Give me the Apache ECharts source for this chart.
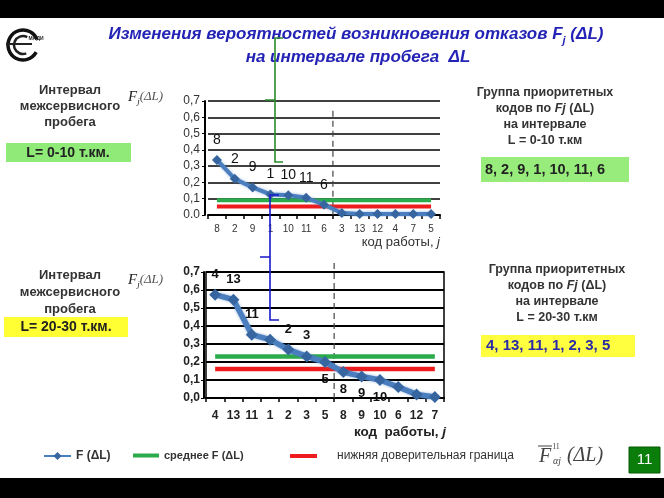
<!DOCTYPE html>
<html><head><meta charset="utf-8">
<script src="https://cdn.jsdelivr.net/npm/echarts@6/dist/echarts.min.js"></script>
<style>html,body{margin:0;padding:0;background:#fff}#c{width:664px;height:498px}</style>
</head><body><div id="c"></div>
<script>
// ---- data ----
const catsTop = ['8','2','9','1','10','11','6','3','13','12','4','7','5'];
const valsTop = [0.338,0.222,0.169,0.126,0.122,0.106,0.063,0.012,0.006,0.006,0.006,0.006,0.006];
const meanTop = 0.091;
const lowTop = 0.052;
const priorityTop = ['8','2','9','1','10','11','6'];
const labelsTop = ['8','2','9','1','10','11','6'];
const yLabelsTop = ['0.0','0,1','0,2','0,3','0,4','0,5','0,6','0,7'];

const catsBot = ['4','13','11','1','2','3','5','8','9','10','6','12','7'];
const valsBot = [0.574,0.546,0.352,0.324,0.269,0.231,0.200,0.144,0.120,0.100,0.061,0.020,0.006];
const meanBot = 0.230;
const lowBot = 0.161;
const priorityBot = ['4','13','11','1','2','3','5'];
const labelsBotAbove = ['4','13','11','2','3'];
const labelsBotBelow = ['5','8','9','10'];
const yLabelsBot = ['0,0','0,1','0,2','0,3','0,4','0,5','0,6','0,7'];

const seriesNames = ['F (ΔL)', 'среднее F (ΔL)', 'нижняя доверительная граница'];

// ---- styles ----
const SANS = "'Liberation Sans', Arial, sans-serif";
const NARROW = "'Liberation Sans Narrow', 'Arial Narrow', 'Liberation Sans', sans-serif";
const SERIF = "'Liberation Serif', 'Times New Roman', serif";
const BLUE = '#4a7ebf', BLUE_D = '#36659f', GREEN = '#2bab4b', RED = '#ee1c1c';
const TXT = '#333';

const chart = echarts.init(document.getElementById('c'));

function blueData(cats, vals, above, below, font, bold, size) {
  return vals.map((v, i) => {
    const c = cats[i];
    let label = { show: false };
    if (above.includes(c)) label = { show: true, position: 'top', distance: 8 };
    else if (below.includes(c)) label = { show: true, position: 'bottom', distance: 5 };
    return { value: v, label: Object.assign(label, { formatter: c, fontFamily: font, fontWeight: bold, fontSize: size, color: '#111' }) };
  });
}

const option = {
  animation: false,
  backgroundColor: '#fff',
  grid: [
    { left: 208, top: 101, width: 232, height: 114 },
    { left: 206, top: 272, width: 238, height: 126, show: true, borderColor: '#000', borderWidth: 1.5 }
  ],
  xAxis: [
    { type: 'category', gridIndex: 0, data: catsTop, boundaryGap: true,
      axisLine: { lineStyle: { color: '#000', width: 2 } },
      axisTick: { show: true, length: 4, lineStyle: { color: '#000', width: 1.5 } },
      axisLabel: { fontFamily: NARROW, fontSize: 10, color: TXT, margin: 9, interval: 0 } },
    { type: 'category', gridIndex: 1, data: catsBot, boundaryGap: true,
      axisLine: { lineStyle: { color: '#000', width: 2 } },
      axisTick: { show: true, length: 4, lineStyle: { color: '#000', width: 1.5 } },
      axisLabel: { fontFamily: SANS, fontWeight: 'bold', fontSize: 12, color: '#222', margin: 12, interval: 0 } }
  ],
  yAxis: [
    { type: 'value', gridIndex: 0, min: 0, max: 0.7, interval: 0.1, offset: 3,
      axisLine: { show: true, lineStyle: { color: '#000', width: 2 } },
      axisTick: { show: true, length: 3, lineStyle: { color: '#000' } },
      splitLine: { lineStyle: { color: '#000', width: 1.5 } },
      axisLabel: { fontFamily: NARROW, fontSize: 12, color: TXT, margin: 5,
        formatter: v => yLabelsTop[Math.round(v * 10)] } },
    { type: 'value', gridIndex: 1, min: 0, max: 0.7, interval: 0.1, offset: 2,
      axisLine: { show: true, lineStyle: { color: '#000', width: 2 } },
      axisTick: { show: true, length: 3, lineStyle: { color: '#000' } },
      splitLine: { lineStyle: { color: '#000', width: 2 } },
      axisLabel: { fontFamily: SANS, fontWeight: 'bold', fontSize: 12, color: '#222', margin: 4,
        formatter: v => yLabelsBot[Math.round(v * 10)] } }
  ],
  legend: [
    { left: 38, top: 445, itemWidth: 27, itemHeight: 10, data: [seriesNames[0]], selectedMode: false,
      textStyle: { fontFamily: SANS, fontWeight: 'bold', fontSize: 12, color: TXT } },
    { left: 128, top: 445, itemWidth: 26, itemHeight: 4, data: [{ name: seriesNames[1], icon: 'rect' }], selectedMode: false,
      textStyle: { fontFamily: SANS, fontWeight: 'bold', fontSize: 11, color: TXT } },
    { left: 285, top: 445, itemWidth: 27, itemHeight: 4, data: [{ name: seriesNames[2], icon: 'rect' }], selectedMode: false,
      formatter: n => '{t|' + n + '}',
      textStyle: { fontFamily: SANS, fontSize: 12, color: TXT, rich: { t: { padding: [0, 0, 0, 15], fontFamily: SANS, fontSize: 12, color: TXT } } } }
  ],
  series: [
    { name: seriesNames[1], type: 'line', xAxisIndex: 0, yAxisIndex: 0, symbol: 'none',
      data: catsTop.map(() => meanTop), lineStyle: { color: GREEN, width: 4 }, itemStyle: { color: GREEN } },
    { name: seriesNames[2], type: 'line', xAxisIndex: 0, yAxisIndex: 0, symbol: 'none',
      data: catsTop.map(() => lowTop), lineStyle: { color: RED, width: 4 }, itemStyle: { color: RED } },
    { name: seriesNames[0], type: 'line', xAxisIndex: 0, yAxisIndex: 0, symbol: 'diamond', symbolSize: 10,
      data: blueData(catsTop, valsTop, labelsTop, [], NARROW, 'normal', 14),
      lineStyle: { color: BLUE, width: 4, shadowBlur: 3, shadowColor: 'rgba(74,126,191,0.6)' },
      itemStyle: { color: BLUE_D } },
    { name: seriesNames[1], type: 'line', xAxisIndex: 1, yAxisIndex: 1, symbol: 'none',
      data: catsBot.map(() => meanBot), lineStyle: { color: GREEN, width: 4.5 }, itemStyle: { color: GREEN } },
    { name: seriesNames[2], type: 'line', xAxisIndex: 1, yAxisIndex: 1, symbol: 'none',
      data: catsBot.map(() => lowBot), lineStyle: { color: RED, width: 4.5 }, itemStyle: { color: RED } },
    { name: seriesNames[0], type: 'line', xAxisIndex: 1, yAxisIndex: 1, symbol: 'diamond', symbolSize: 12,
      data: blueData(catsBot, valsBot, labelsBotAbove, labelsBotBelow, SANS, 'bold', 13),
      lineStyle: { color: BLUE, width: 5.5, shadowBlur: 3, shadowColor: 'rgba(74,126,191,0.6)' },
      itemStyle: { color: BLUE_D } }
  ]
};

function t(x, y, text, o) {
  return { type: 'text', z: 10, style: Object.assign({ x: x, y: y, text: text, align: 'center', verticalAlign: 'middle',
    fontFamily: SANS, fontSize: 13, fontWeight: 'bold', fill: TXT }, o || {}) };
}
const blueTitle = '#2323b5';
const graphic = [
  { type: 'rect', shape: { x: 0, y: 0, width: 664, height: 18 }, style: { fill: '#000' } },
  { type: 'rect', shape: { x: 0, y: 478, width: 664, height: 20 }, style: { fill: '#000' } },
  // logo
  { type: 'arc', shape: { cx: 23, cy: 45, r: 15, startAngle: 0.5, endAngle: 5.9 }, style: { stroke: '#111', lineWidth: 3.5, fill: null } },
  { type: 'arc', shape: { cx: 23, cy: 45, r: 9, startAngle: 1.2, endAngle: 5.2 }, style: { stroke: '#222', lineWidth: 2.5, fill: null } },
  { type: 'line', shape: { x1: 6, y1: 44, x2: 32, y2: 44 }, style: { stroke: '#222', lineWidth: 2 } },
  t(36, 39, 'МАДИ', { fontSize: 5, fill: '#222' }),
  // title
  { type: 'text', z: 5, style: { x: 356, y: 34, align: 'center', verticalAlign: 'middle',
    text: '{a|Изменения вероятностей возникновения отказов F}{s|j}{a| (ΔL)}',
    rich: { a: { fontFamily: SANS, fontSize: 17, fontWeight: 'bold', fontStyle: 'italic', fill: blueTitle, lineHeight: 24 },
            s: { fontFamily: SANS, fontSize: 11, fontWeight: 'bold', fontStyle: 'italic', fill: blueTitle, lineHeight: 11, verticalAlign: 'bottom' } } } },
  t(358, 57, 'на интервале пробега  ΔL', { fontSize: 17, fontStyle: 'italic', fill: blueTitle }),
  // left texts
  t(70, 106, 'Интервал\nмежсервисного\nпробега', { lineHeight: 16 }),
  { type: 'rect', shape: { x: 6, y: 143, width: 125, height: 19 }, style: { fill: '#8fea78' } },
  t(68, 153, 'L= 0-10 т.км.', { fontSize: 14, fill: '#222' }),
  t(70, 292, 'Интервал\nмежсервисного\nпробега', { lineHeight: 17 }),
  { type: 'rect', shape: { x: 4, y: 317, width: 124, height: 20 }, style: { fill: '#ffff33' } },
  t(66, 327, 'L= 20-30 т.км.', { fontSize: 14, fill: '#222' }),
  // right texts
  { type: 'text', z: 10, style: { x: 545, y: 117, align: 'center', verticalAlign: 'middle',
    text: '{b|Группа приоритетных}\n{b|кодов по }{i|Fj}{b| (ΔL)}\n{b|на интервале}\n{b|L = 0-10 т.км}',
    rich: { b: { fontFamily: SANS, fontSize: 12.5, fontWeight: 'bold', fill: TXT, lineHeight: 16 },
            i: { fontFamily: SANS, fontSize: 12.5, fontWeight: 'bold', fontStyle: 'italic', fill: TXT, lineHeight: 16 } } } },
  { type: 'rect', shape: { x: 481, y: 157, width: 148, height: 25 }, style: { fill: '#97ec7c' } },
  t(485, 169.5, '8, 2, 9, 1, 10, 11, 6', { align: 'left', fontSize: 14.5, fill: '#222' }),
  { type: 'text', z: 10, style: { x: 557, y: 294, align: 'center', verticalAlign: 'middle',
    text: '{b|Группа приоритетных}\n{b|кодов по }{i|Fj}{b| (ΔL)}\n{b|на интервале}\n{b|L = 20-30 т.км}',
    rich: { b: { fontFamily: SANS, fontSize: 12.5, fontWeight: 'bold', fill: TXT, lineHeight: 16 },
            i: { fontFamily: SANS, fontSize: 12.5, fontWeight: 'bold', fontStyle: 'italic', fill: TXT, lineHeight: 16 } } } },
  { type: 'rect', shape: { x: 481, y: 335, width: 154, height: 22 }, style: { fill: '#ffff40' } },
  t(486, 346, '4, 13, 11, 1, 2, 3, 5', { align: 'left', fontSize: 15, fill: '#2b2ba8' }),
  // axis titles
  { type: 'text', z: 10, style: { x: 128, y: 97, verticalAlign: 'middle',
    text: '{f|F}{s|j}{p|(ΔL)}',
    rich: { f: { fontFamily: SERIF, fontStyle: 'italic', fontSize: 15, fill: '#222', lineHeight: 18 },
            s: { fontFamily: SERIF, fontStyle: 'italic', fontSize: 9, fill: '#222', lineHeight: 9, verticalAlign: 'bottom' },
            p: { fontFamily: SERIF, fontStyle: 'italic', fontSize: 13, fill: '#555', lineHeight: 18 } } } },
  { type: 'text', z: 10, style: { x: 128, y: 280, verticalAlign: 'middle',
    text: '{f|F}{s|j}{p|(ΔL)}',
    rich: { f: { fontFamily: SERIF, fontStyle: 'italic', fontSize: 15, fill: '#222', lineHeight: 18 },
            s: { fontFamily: SERIF, fontStyle: 'italic', fontSize: 9, fill: '#222', lineHeight: 9, verticalAlign: 'bottom' },
            p: { fontFamily: SERIF, fontStyle: 'italic', fontSize: 13, fill: '#555', lineHeight: 18 } } } },
  { type: 'text', z: 10, style: { x: 440, y: 242, align: 'right', verticalAlign: 'middle',
    text: '{a|код работы, }{j|j}',
    rich: { a: { fontFamily: NARROW, fontSize: 13, fill: TXT }, j: { fontFamily: NARROW, fontSize: 13, fontStyle: 'italic', fill: TXT } } } },
  { type: 'text', z: 10, style: { x: 446, y: 432, align: 'right', verticalAlign: 'middle',
    text: '{a|код  работы, }{j|j}',
    rich: { a: { fontFamily: SANS, fontSize: 13.5, fontWeight: 'bold', fill: '#222' }, j: { fontFamily: SANS, fontSize: 13.5, fontWeight: 'bold', fontStyle: 'italic', fill: '#222' } } } },
  // brackets
  { type: 'polyline', z: 20, shape: { points: [[283, 38], [275, 38], [275, 100], [265, 100], [275, 100], [275, 162], [283, 162]] },
    style: { stroke: '#2a8a2a', lineWidth: 1.6, fill: null } },
  { type: 'polyline', z: 20, shape: { points: [[279, 195], [270, 195], [270, 257], [260, 257], [270, 257], [270, 320], [279, 320]] },
    style: { stroke: '#1818cc', lineWidth: 1.6, fill: null } },
  // legend formula
  t(545, 457, 'F', { fontFamily: SERIF, fontStyle: 'italic', fontWeight: 'normal', fontSize: 20, fill: '#444' }),
  { type: 'line', shape: { x1: 538, y1: 446, x2: 552, y2: 446 }, style: { stroke: '#444', lineWidth: 1 } },
  t(556, 447, '11', { fontFamily: SERIF, fontWeight: 'normal', fontSize: 8, fill: '#444' }),
  t(557, 461, 'αj', { fontFamily: SERIF, fontStyle: 'italic', fontWeight: 'normal', fontSize: 10, fill: '#444' }),
  t(585, 456, '(ΔL)', { fontFamily: SERIF, fontStyle: 'italic', fontWeight: 'normal', fontSize: 20, fill: '#444' }),
  // page number
  { type: 'rect', shape: { x: 629, y: 447, width: 31, height: 26 }, style: { fill: '#0b7d0b', stroke: '#075807', lineWidth: 1 } },
  t(644.5, 460, '11', { fontSize: 15, fontWeight: 'normal', fill: '#fff' })
];
option.graphic = graphic;
chart.setOption(option);

// dashed separators after the priority group, placed through the axes
function sep(gi, cats, prio, yTop) {
  const a = chart.convertToPixel({ gridIndex: gi }, [cats[prio.length - 1], yTop]);
  const b = chart.convertToPixel({ gridIndex: gi }, [cats[prio.length], 0]);
  const x = (a[0] + b[0]) / 2;
  return { type: 'line', id: 'sep' + gi, z: 3, shape: { x1: x, y1: a[1], x2: x, y2: b[1] },
    style: { stroke: '#444', lineWidth: 1.2, lineDash: [6, 4] } };
}
chart.setOption({ graphic: graphic.concat([sep(0, catsTop, priorityTop, 0.64), sep(1, catsBot, priorityBot, 0.75)]) });
</script></body></html>
